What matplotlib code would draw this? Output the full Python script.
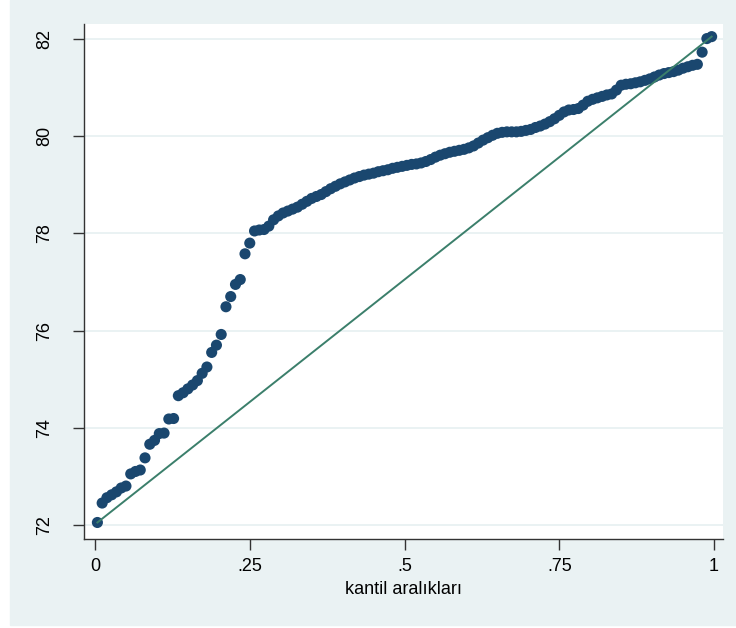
import numpy as np
import matplotlib
matplotlib.use("Agg")
import matplotlib.pyplot as plt
from matplotlib.patches import Rectangle

# sorted values, one per observation
values = [72.05, 72.45, 72.56, 72.62, 72.68, 72.76, 72.80, 73.05, 73.10, 73.13,
          73.38, 73.66, 73.74, 73.88, 73.89, 74.18, 74.19, 74.66, 74.72, 74.80,
          74.88, 74.97, 75.12, 75.25, 75.55, 75.70, 75.92, 76.49, 76.70, 76.95,
          77.05, 77.58, 77.80, 78.05, 78.07, 78.08, 78.15, 78.28, 78.36, 78.42,
          78.46, 78.50, 78.54, 78.60, 78.66, 78.72, 78.76, 78.80, 78.86, 78.92,
          78.97, 79.02, 79.06, 79.10, 79.14, 79.17, 79.20, 79.22, 79.24, 79.27,
          79.29, 79.31, 79.34, 79.36, 79.38, 79.40, 79.42, 79.43, 79.45, 79.48,
          79.52, 79.57, 79.61, 79.64, 79.67, 79.69, 79.71, 79.73, 79.76, 79.80,
          79.86, 79.92, 79.97, 80.02, 80.06, 80.08, 80.09, 80.09, 80.09, 80.10,
          80.12, 80.14, 80.18, 80.21, 80.25, 80.30, 80.36, 80.43, 80.50, 80.54,
          80.55, 80.57, 80.64, 80.72, 80.76, 80.79, 80.82, 80.85, 80.87, 80.95,
          81.05, 81.07, 81.08, 81.10, 81.12, 81.15, 81.18, 81.22, 81.26, 81.29,
          81.31, 81.33, 81.36, 81.40, 81.43, 81.46, 81.48, 81.73, 82.01, 82.05]

x_ticks = [0, 0.25, 0.5, 0.75, 1]
x_ticklabels = ["0", ".25", ".5", ".75", "1"]
y_ticks = [72, 74, 76, 78, 80, 82]
x_title = "kantil aralıkları"

plt.rcParams['font.family'] = ['Liberation Sans', 'DejaVu Sans']

W, H = 736, 628
fig = plt.figure(figsize=(W / 100, H / 100), dpi=100)
fig.patch.set_facecolor('white')

# light graph region behind the plot
fig.add_artist(Rectangle((10 / W, 1 - 625 / H), 726 / W, 625 / H,
                         transform=fig.transFigure, color='#EAF2F3', zorder=0))

ax = fig.add_axes([83.5 / W, 1 - 539 / H, (723 - 83.5) / W, (539 - 24) / H])
ax.set_facecolor('white')

y = np.array(values)
n = len(y)
# plotting positions (i - .5) / n
q = (np.arange(1, n + 1) - 0.5) / n

ax.scatter(q, y, s=8.0 ** 2, color='#1A476F', edgecolors='none', zorder=3)
# uniform reference line from min to max
ax.plot([q[0], q[-1]], [y.min(), y.max()], color='#3B7F6B', lw=1.4, zorder=4)

ax.set_xlim(-0.0186, 1.0145)
ax.set_ylim(71.71, 82.31)

for t in y_ticks:
    ax.axhline(t, color='#EAF2F3', lw=1.4, zorder=1)

ax.set_xticks(x_ticks)
ax.set_xticklabels(x_ticklabels)
ax.set_yticks(y_ticks)
ax.set_yticklabels([str(t) for t in y_ticks], rotation=90, va='center')

ax.tick_params(axis='x', length=8, width=1, color='#333333', labelsize=13, pad=6)
ax.tick_params(axis='y', length=8, width=1, color='#333333', labelsize=13, pad=14)

for side in ['top', 'right']:
    ax.spines[side].set_visible(False)
for side in ['left', 'bottom']:
    ax.spines[side].set_color('#333333')
    ax.spines[side].set_linewidth(1.0)

ax.set_xlabel(x_title, fontsize=13, labelpad=4)

fig.savefig('out.png', dpi=100, facecolor=fig.get_facecolor())
